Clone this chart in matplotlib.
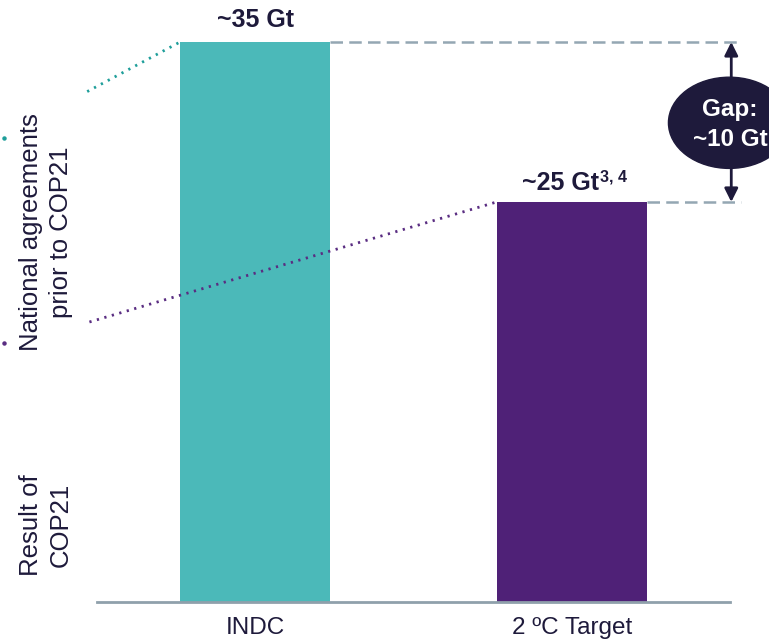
import matplotlib
matplotlib.use("Agg")
import matplotlib.pyplot as plt
from matplotlib.patches import Ellipse

plt.rcParams['font.family'] = ['Liberation Sans', 'DejaVu Sans']

# Emission levels (Gt CO2e)
categories = ["INDC", "2 ºC Target"]
values = [35, 25]
value_labels = ["~35 Gt", "~25 Gt"]
value_superscripts = ["", "3, 4"]
gap_label = "Gap:\n~10 Gt"
side_labels = ["National agreements\nprior to COP21", "Result of\nCOP21"]

TEAL = "#4BB9B9"
TEAL_DOT = "#1E9E9A"
PURPLE = "#4F2177"
PURPLE_DOT = "#5A2D82"
NAVY = "#1E1A3B"
GRID_GREY = "#94A7B3"

fig = plt.figure(figsize=(7.69, 6.41), dpi=100)
ax = fig.add_axes([97 / 769, 39 / 641, 633 / 769, 602 / 641])

x = list(range(len(categories)))
bar_w = 0.475
bars = ax.bar(x, values, width=bar_w, color=[TEAL, PURPLE], zorder=2)

ax.set_xlim(-0.5, 1.5)
ax.set_ylim(0, 37.625)
for s in ["top", "right", "left"]:
    ax.spines[s].set_visible(False)
ax.spines["bottom"].set_color("#8FA0AB")
ax.spines["bottom"].set_linewidth(2)
ax.set_yticks([])
ax.set_xticks(x)
ax.set_xticklabels(categories, fontsize=17.5, color=NAVY)
ax.tick_params(axis="x", length=0, pad=11)

# Value labels above bars
ax.text(x[0], values[0] + 1.4, value_labels[0], ha="center", va="center",
        fontsize=18, fontweight="bold", color=NAVY)
ax.text(x[1] + 0.087, values[1] + 1.2, value_labels[1], ha="right", va="center",
        fontsize=18, fontweight="bold", color=NAVY)
ax.text(x[1] + 0.09, values[1] + 1.55, value_superscripts[1], ha="left", va="center",
        fontsize=11.5, fontweight="bold", color=NAVY)

# Dashed reference lines from bar tops to the gap marker
x_end = 1.536
for xi, v in zip(x, values):
    ax.plot([xi + bar_w / 2, x_end], [v, v], color=GRID_GREY, lw=1.8,
            dashes=(5, 2.5), clip_on=False, zorder=1)

# Gap arrow and bubble
x_arrow = 1.504
ax.annotate("", xy=(x_arrow, values[0]), xytext=(x_arrow, values[1]),
            arrowprops=dict(arrowstyle="<|-|>", color=NAVY, lw=2, mutation_scale=20,
                            shrinkA=0, shrinkB=0),
            annotation_clip=False, zorder=3)
gap_mid = (values[0] + values[1]) / 2
ell = Ellipse((1.498, gap_mid - 0.05), width=0.385, height=5.7, color=NAVY, clip_on=False, zorder=4)
ax.add_patch(ell)
ax.text(1.50, gap_mid - 0.15, gap_label, ha="center", va="center", fontsize=17.5,
        fontweight="bold", color="white", zorder=5, linespacing=1.4, clip_on=False)

# Dotted connectors from the side labels to the bar tops
ax.plot([-0.531, x[0] - bar_w / 2], [31.9, values[0]], color=TEAL_DOT, lw=2,
        ls=(0, (0.8, 2.0)), clip_on=False, zorder=3)
ax.plot([-0.524, x[1] - bar_w / 2], [17.5, values[1]], color=PURPLE_DOT, lw=2,
        ls=(0, (0.8, 2.0)), clip_on=False, zorder=3)
ax.plot([-0.793], [29.0], marker="o", ms=2.2, color=TEAL_DOT, clip_on=False)
ax.plot([-0.793], [16.2], marker="o", ms=2.2, color=PURPLE_DOT, clip_on=False)

# Side labels
fig.text(46 / 769, 1 - 232 / 641, side_labels[0], rotation=90, ha="center", va="center",
         fontsize=18.5, color=NAVY, linespacing=1.3)
fig.text(46 / 769, 1 - 525 / 641, side_labels[1], rotation=90, ha="center", va="center",
         fontsize=18.5, color=NAVY, linespacing=1.3)

fig.savefig("out.png", dpi=100)
